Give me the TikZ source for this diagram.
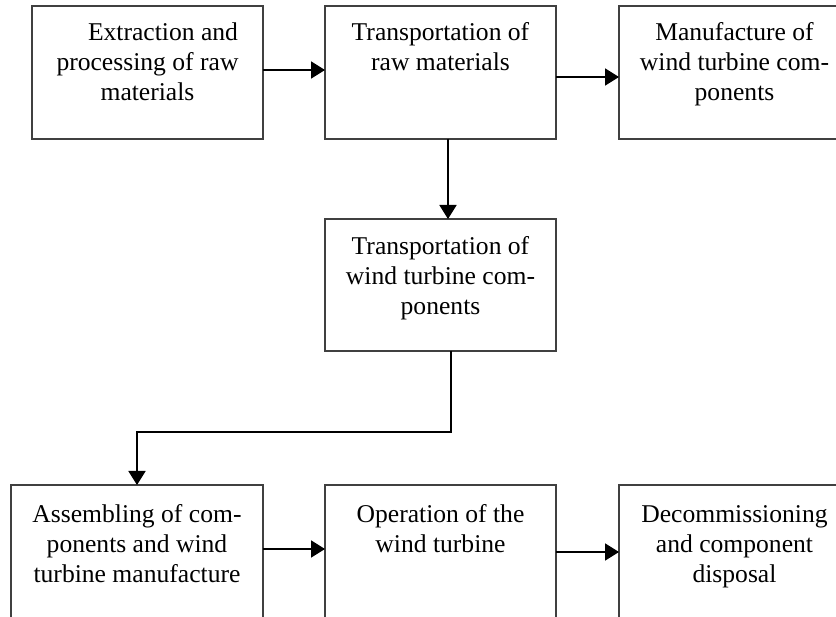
\documentclass[tikz,border=0pt]{standalone}
\usepackage{fontspec}
\setmainfont{Liberation Serif}
\usetikzlibrary{arrows.meta}
\begin{document}
\begin{tikzpicture}[x=1pt,y=-1pt,
  stage/.style={draw=black!75, line width=1.4pt, minimum width=231pt,
    minimum height=133pt, anchor=north west, inner sep=0pt, outer sep=0pt},
  caption/.style={anchor=base, align=center, inner sep=0pt,
    font=\fontsize{25.6}{30}\selectfont},
  flow/.style={line width=1.8pt, -{Triangle[length=14pt,width=17pt]}}]
\useasboundingbox (0,0) rectangle (836,617);
\clip (0,0) rectangle (836,617);

% life-cycle stages
\node[stage] (b1) at (32,6) {};
\node[stage] (b2) at (325,6) {};
\node[stage] (b3) at (619,6) {};
\node[stage, minimum height=132pt] (b4) at (325,219) {};
\node[stage, minimum width=252pt] (b5) at (11,485) {};
\node[stage] (b6) at (325,485) {};
\node[stage] (b7) at (619,485) {};

% stage captions; the base anchor sits on the last line
\node[caption] (t1) at ([yshift=-95pt]b1.north)
  {\hspace*{31pt}Extraction and\\processing of raw\\materials};
\node[caption] (t2) at ([yshift=-65pt]b2.north)
  {Transportation of\\raw materials};
\node[caption] (t3) at ([yshift=-95pt]b3.north)
  {Manufacture of\\wind turbine com-\\ponents};
\node[caption] (t4) at ([yshift=-96pt]b4.north)
  {Transportation of\\wind turbine com-\\ponents};
\node[caption] (t5) at ([yshift=-97pt]b5.north)
  {Assembling of com-\\ponents and wind\\turbine manufacture};
\node[caption] (t6) at ([yshift=-67pt]b6.north)
  {Operation of the\\wind turbine};
\node[caption] (t7) at ([yshift=-97pt]b7.north)
  {Decommissioning\\and component\\disposal};

% flow between stages
\draw[flow] (b1.east |- 0,70) -- (b2.west |- 0,70);
\draw[flow] (b2.east |- 0,77) -- (b3.west |- 0,77);
\draw[flow] (b2.south -| 448,0) -- (b4.north -| 448,0);
\draw[flow] (b4.south -| 451,0) |- (137,432) -- (b5.north -| 137,0);
\draw[flow] (b5.east |- 0,549) -- (b6.west |- 0,549);
\draw[flow] (b6.east |- 0,552) -- (b7.west |- 0,552);
\end{tikzpicture}
\end{document}
